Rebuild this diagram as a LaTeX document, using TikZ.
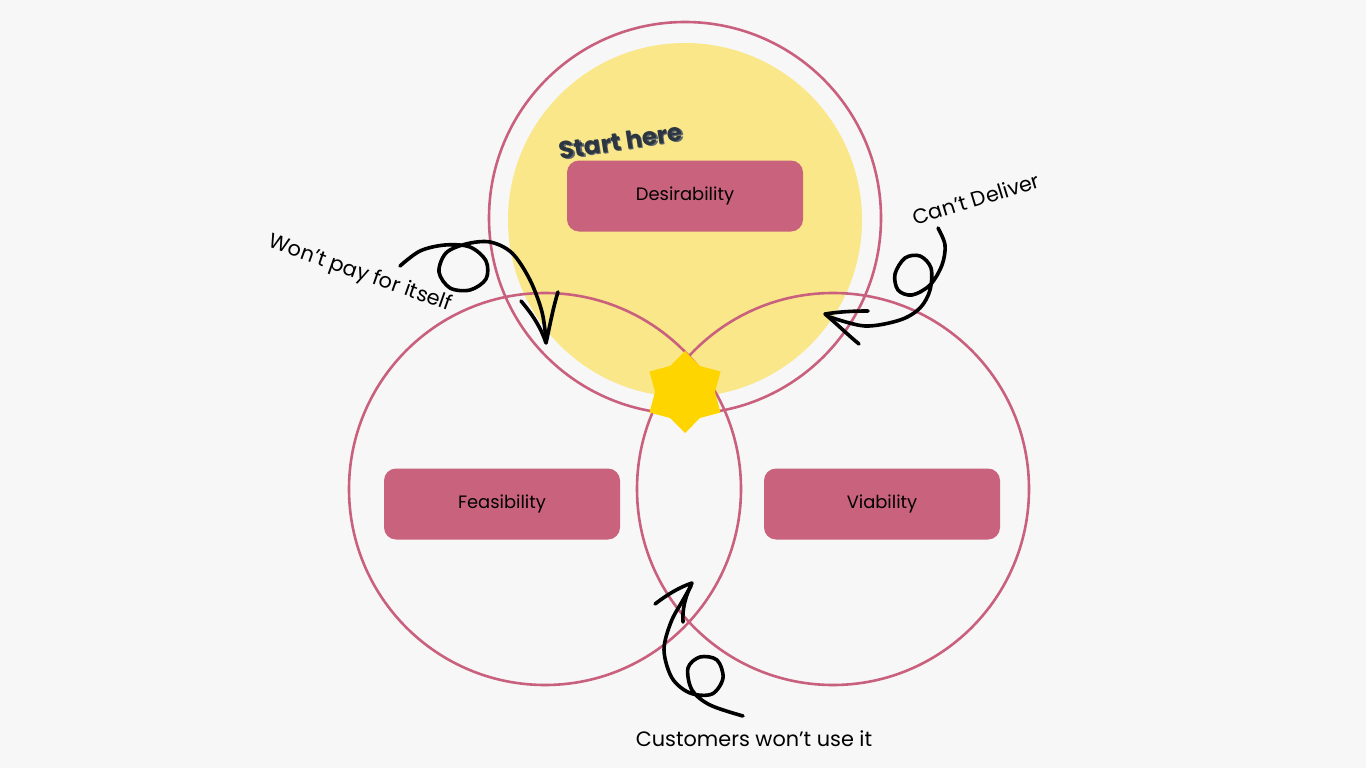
\documentclass[tikz,border=0pt]{standalone}
\usepackage{fontspec}
\setmainfont{Poppins}
\definecolor{bgc}{HTML}{F7F7F7}
\definecolor{pinkc}{HTML}{C9627D}
\definecolor{ringc}{HTML}{C8607E}
\definecolor{yelc}{HTML}{FAE78A}
\definecolor{starc}{HTML}{FFD500}
\definecolor{darkc}{HTML}{2C3640}
\tikzset{
  ring/.style={draw=ringc, line width=2.6pt},
  pill/.style={fill=pinkc, rounded corners=12pt, minimum width=236pt, minimum height=71pt, inner sep=0pt, font=\fontsize{17.9}{21}\selectfont, text=black},
  brush/.style={draw=black, line width=3.6pt, line cap=round, line join=round},
  lbl/.style={font=\fontsize{20.8}{24}\selectfont, text=black, inner sep=0pt}
}
\begin{document}
\begin{tikzpicture}[x=1pt,y=-1pt]
\useasboundingbox (0,0) rectangle (1366,768);
\fill[bgc] (0,0) rectangle (1366,768);
% yellow disc
\fill[yelc] (685,220) circle (177pt);
% circles
\draw[ring] (685,218) circle (196pt);
\draw[ring] (545,489) circle (196pt);
\draw[ring] (833,489) circle (196pt);
% star
\fill[starc] (685,392) +(90:41) -- +(60:30) -- +(30:41) -- +(0:30) -- +(-30:41) -- +(-60:30)
  -- +(-90:41) -- +(-120:30) -- +(-150:41) -- +(180:30) -- +(150:41) -- +(120:30) -- cycle;
% boxes
\node[pill] (des) at (685,196) {Desirability};
\node[pill] (fea) at (502,504) {Feasibility};
\node[pill] (via) at (882,504) {Viability};
% start here
\node[font=\fontsize{24.5}{28}\selectfont\bfseries, text=darkc!75, rotate=9, inner sep=0pt] at (622.3,142.3) {Start here};
\node[font=\fontsize{24.5}{28}\selectfont\bfseries, text=darkc, rotate=9, inner sep=0pt] (start) at (621,141) {Start here};
% labels
\node[lbl, rotate=-19.5] (won) at (360,274) {Won’t pay for itself};
\node[lbl, rotate=17] (cant) at (976,199) {Can’t Deliver};
\node[lbl] (cust) at (754,739) {Customers won’t use it};
% arrow 1
\draw[brush] plot[smooth, tension=0.55] coordinates {(400,266) (420,251) (445,245) (470,247) (486,261) (486,279) (470,290) (450,288) (439,272) (446,253) (466,244) (490,242) (512,253) (530,280) (542,312) (546,340)};
\draw[brush] (521,301) .. controls (533,315) and (541,328) .. (546,343) .. controls (550,325) and (553,308) .. (558,292);
% arrow 2
\draw[brush] plot[smooth, tension=0.55] coordinates {(938,228) (945,245) (942,265) (930,285) (912,295) (898,290) (895,274) (905,258) (920,256) (931,268) (930,290) (920,308) (900,320) (865,326) (830,317)};
\draw[brush] (868,311) .. controls (850,311) and (838,312) .. (825,314) .. controls (838,325) and (848,335) .. (859,344);
% arrow 3
\draw[brush] plot[smooth, tension=0.55] coordinates {(691,586) (683,600) (671,622) (664,650) (672,678) (690,693) (712,694) (723,678) (717,660) (700,657) (688,668) (692,690) (710,705) (743,716)};
\draw[brush] (655,604) .. controls (668,594) and (680,587) .. (692,583) .. controls (686,595) and (682,608) .. (683,622);
\end{tikzpicture}
\end{document}
